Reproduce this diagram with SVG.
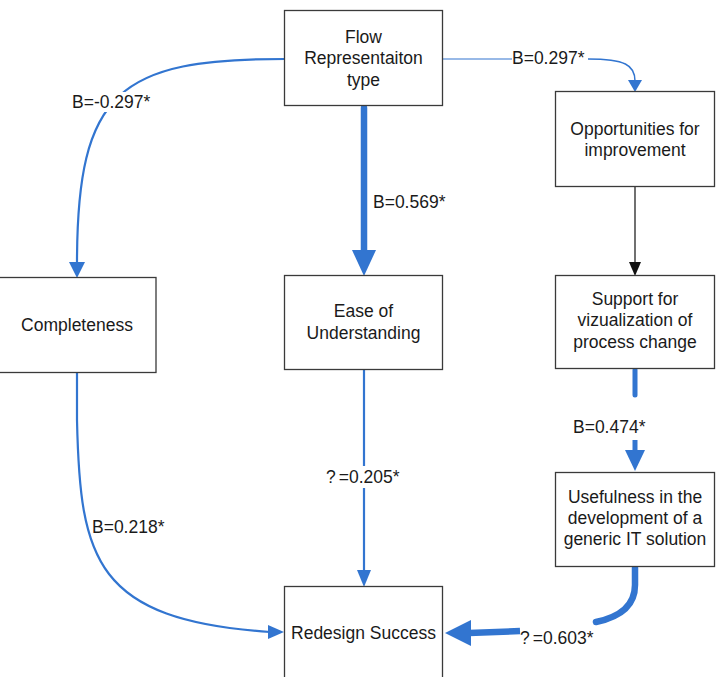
<svg xmlns="http://www.w3.org/2000/svg" width="718" height="677" viewBox="0 0 718 677">
  <style>
    .box { fill: #ffffff; stroke: #3a3a3a; stroke-width: 1.3; }
    .t { font-family: "Liberation Sans", Arial, sans-serif; font-size: 17.5px; fill: #1a1a1a; text-anchor: middle; }
    .lbl { font-family: "Liberation Sans", Arial, sans-serif; font-size: 17.5px; fill: #1a1a1a; }
    .edge { fill: none; stroke: #3275d0; }
    .head { fill: #3275d0; stroke: none; }
    .bg { fill: #ffffff; }
  </style>
  <rect width="718" height="677" fill="#ffffff"/>

  <!-- connectors -->
  <g id="connectors">
    <!-- Flow -> Completeness -->
    <path class="edge" stroke-width="2.2" d="M285,59 C120,59 77,90 77,263"/>
    <polygon class="head" points="69,262 85,262 77,278"/>
    <rect class="bg" x="72" y="92" width="80" height="20"/>
    <text class="lbl" x="72" y="108">B=-0.297*</text>

    <!-- Flow -> Opportunities -->
    <path class="edge" stroke="#5b93db" stroke-width="1.2" d="M443,59 L588,59"/>
    <path class="edge" stroke-width="1.5" d="M588,59 C625,59 635,65 635,81"/>
    <polygon class="head" points="628,80 642,80 635,92"/>
    <rect class="bg" x="512" y="49" width="76" height="19"/>
    <text class="lbl" x="512" y="64">B=0.297*</text>

    <!-- Flow -> Ease of Understanding -->
    <path class="edge" stroke-width="6.5" stroke-linecap="round" d="M364,108 L364,252"/>
    <polygon class="head" points="352,250 376,250 364,276"/>
    <text class="lbl" x="373" y="208">B=0.569*</text>

    <!-- Ease of Understanding -> Redesign Success -->
    <path class="edge" stroke-width="2.2" d="M364,370 L364,572"/>
    <polygon class="head" points="357,570 371,570 364,587"/>
    <rect class="bg" x="326" y="466" width="78" height="22"/>
    <text class="lbl" x="326" y="483">?<tspan dx="3">=0.205*</tspan></text>

    <!-- Opportunities -> Support -->
    <path fill="none" stroke="#111111" stroke-width="1.2" d="M635,187 L635,263"/>
    <polygon fill="#111111" points="629,262 641,262 635,276"/>

    <!-- Support -> Usefulness -->
    <path class="edge" stroke-width="5" stroke-linecap="round" d="M635,370 L635,395"/>
    <path class="edge" stroke-width="5" d="M635,440 L635,452"/>
    <polygon class="head" points="625,450 645,450 635,471"/>
    <text class="lbl" x="573" y="433">B=0.474*</text>

    <!-- Usefulness -> Redesign Success -->
    <path class="edge" stroke-width="6.5" stroke-linecap="round" d="M635,568 L635,585 C635,606 620,617 596,622"/>
    <path class="edge" stroke-width="6.5" d="M520,631 L469,633"/>
    <polygon class="head" points="471,620 471,646 445,633"/>
    <text class="lbl" x="520" y="644">?<tspan dx="3">=0.603*</tspan></text>

    <!-- Completeness -> Redesign Success -->
    <path class="edge" stroke-width="2.2" d="M77,373 L77,420 C80,560 95,620 270,632"/>
    <polygon class="head" points="268,625 268,639 284,632"/>
    <text class="lbl" x="92" y="533">B=0.218*</text>
  </g>

  <!-- nodes -->
  <g id="flow-representation">
    <rect class="box" x="284.5" y="10.5" width="158" height="95"/>
    <text class="t" x="363.5" y="42.5">Flow</text>
    <text class="t" x="363.5" y="64">Representaiton</text>
    <text class="t" x="363.5" y="85.5">type</text>
  </g>

  <g id="opportunities">
    <rect class="box" x="555.5" y="91.5" width="159" height="95"/>
    <text class="t" x="635" y="135">Opportunities for</text>
    <text class="t" x="635" y="156">improvement</text>
  </g>

  <g id="completeness">
    <rect class="box" x="-1" y="277.5" width="157" height="95"/>
    <text class="t" x="77" y="331">Completeness</text>
  </g>

  <g id="ease-of-understanding">
    <rect class="box" x="284.5" y="275.5" width="158" height="94"/>
    <text class="t" x="363.5" y="317">Ease of</text>
    <text class="t" x="363.5" y="338.5">Understanding</text>
  </g>

  <g id="support-visualization">
    <rect class="box" x="555.5" y="275.5" width="159" height="93"/>
    <text class="t" x="635" y="304.5">Support for</text>
    <text class="t" x="635" y="326">vizualization of</text>
    <text class="t" x="635" y="347.5">process change</text>
  </g>

  <g id="usefulness">
    <rect class="box" x="555.5" y="472.5" width="159" height="94"/>
    <text class="t" x="635" y="502.5">Usefulness in the</text>
    <text class="t" x="635" y="523.5">development of a</text>
    <text class="t" x="635" y="545">generic IT solution</text>
  </g>

  <g id="redesign-success">
    <rect class="box" x="284.5" y="586.5" width="158" height="100"/>
    <text class="t" x="363.5" y="639">Redesign Success</text>
  </g>
</svg>
